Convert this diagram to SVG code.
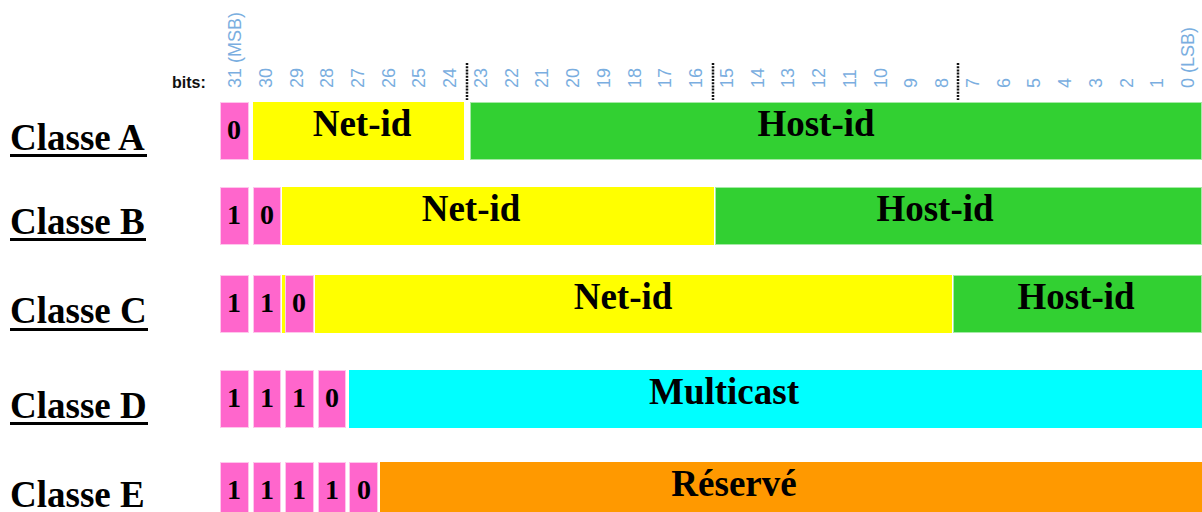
<svg xmlns="http://www.w3.org/2000/svg" width="1202" height="512" viewBox="0 0 1202 512">
<style>
.bit{font-family:"Liberation Sans",Arial,sans-serif;font-size:18px;fill:#7aaee0}
.bits{font-family:"Liberation Sans",Arial,sans-serif;font-size:16px;font-weight:bold;fill:#111}
.cls{font-family:"Liberation Serif","Times New Roman",serif;font-size:37px;font-weight:bold;fill:#000}
.lbl{font-family:"Liberation Serif","Times New Roman",serif;font-size:37px;font-weight:bold;fill:#000;text-anchor:middle}
.dig{font-family:"Liberation Serif","Times New Roman",serif;font-size:28px;font-weight:bold;fill:#000;text-anchor:middle}
.pk{fill:#ff66cc;stroke:#ffc6ec;stroke-width:1}
.ye{fill:#ffff00}
.gr{fill:#32d032;stroke:#a6eaa6;stroke-width:1}
.cy{fill:#00ffff}
.or{fill:#ff9900}
.ul{fill:#000}
.dot{stroke:#111;stroke-width:2.5;stroke-dasharray:2 1.2}
</style>
<g id="ruler">
<text class="bits" x="172" y="88">bits:</text>
<text class="bit" transform="translate(241,88) rotate(-90)">31 (MSB)</text>
<text class="bit" transform="translate(271.7,88) rotate(-90)">30</text>
<text class="bit" transform="translate(302.5,88) rotate(-90)">29</text>
<text class="bit" transform="translate(333.2,88) rotate(-90)">28</text>
<text class="bit" transform="translate(364,88) rotate(-90)">27</text>
<text class="bit" transform="translate(394.7,88) rotate(-90)">26</text>
<text class="bit" transform="translate(425.4,88) rotate(-90)">25</text>
<text class="bit" transform="translate(456.2,88) rotate(-90)">24</text>
<text class="bit" transform="translate(486.9,88) rotate(-90)">23</text>
<text class="bit" transform="translate(517.7,88) rotate(-90)">22</text>
<text class="bit" transform="translate(548.4,88) rotate(-90)">21</text>
<text class="bit" transform="translate(579.1,88) rotate(-90)">20</text>
<text class="bit" transform="translate(609.9,88) rotate(-90)">19</text>
<text class="bit" transform="translate(640.6,88) rotate(-90)">18</text>
<text class="bit" transform="translate(671.4,88) rotate(-90)">17</text>
<text class="bit" transform="translate(702.2,88) rotate(-90)">16</text>
<text class="bit" transform="translate(732.8,88) rotate(-90)">15</text>
<text class="bit" transform="translate(763.6,88) rotate(-90)">14</text>
<text class="bit" transform="translate(794.3,88) rotate(-90)">13</text>
<text class="bit" transform="translate(825.1,88) rotate(-90)">12</text>
<text class="bit" transform="translate(855.8,88) rotate(-90)">11</text>
<text class="bit" transform="translate(886.6,88) rotate(-90)">10</text>
<text class="bit" transform="translate(917.3,88) rotate(-90)">9</text>
<text class="bit" transform="translate(948,88) rotate(-90)">8</text>
<text class="bit" transform="translate(978.8,88) rotate(-90)">7</text>
<text class="bit" transform="translate(1009.5,88) rotate(-90)">6</text>
<text class="bit" transform="translate(1040.3,88) rotate(-90)">5</text>
<text class="bit" transform="translate(1071,88) rotate(-90)">4</text>
<text class="bit" transform="translate(1101.7,88) rotate(-90)">3</text>
<text class="bit" transform="translate(1132.5,88) rotate(-90)">2</text>
<text class="bit" transform="translate(1163.2,88) rotate(-90)">1</text>
<text class="bit" transform="translate(1194,88) rotate(-90)">0 (LSB)</text>
</g>
<g id="connectors">
<line class="dot" x1="467" y1="63" x2="467" y2="100"/>
<line class="dot" x1="713" y1="63" x2="713" y2="100"/>
<line class="dot" x1="958" y1="63" x2="958" y2="100"/>
</g>
<g id="classA">
<text class="cls" x="10" y="150">Classe A</text>
<rect class="ul" x="10" y="154" width="137" height="3"/>
<rect class="pk" x="220.5" y="102.5" width="28" height="57"/>
<text class="dig" x="234" y="139">0</text>
<rect class="ye" x="253" y="102" width="211" height="58"/>
<text class="lbl" x="362" y="136">Net-id</text>
<rect class="gr" x="470.5" y="102.5" width="731" height="57"/>
<text class="lbl" x="816" y="136">Host-id</text>
</g>
<g id="classB">
<text class="cls" x="10" y="234">Classe B</text>
<rect class="ul" x="10" y="238" width="136" height="3"/>
<rect class="pk" x="220.5" y="187.5" width="28" height="57"/>
<text class="dig" x="234" y="224">1</text>
<rect class="pk" x="253.5" y="187.5" width="27" height="57"/>
<text class="dig" x="267" y="224">0</text>
<rect class="ye" x="282" y="187" width="432" height="58"/>
<text class="lbl" x="471" y="221">Net-id</text>
<rect class="gr" x="715.5" y="187.5" width="486" height="57"/>
<text class="lbl" x="935" y="221">Host-id</text>
</g>
<g id="classC">
<text class="cls" x="10" y="323">Classe C</text>
<rect class="ul" x="10" y="328" width="138" height="3"/>
<rect class="pk" x="220.5" y="275.5" width="28" height="57"/>
<text class="dig" x="234" y="312">1</text>
<rect class="pk" x="253.5" y="275.5" width="27" height="57"/>
<text class="dig" x="267" y="312">1</text>
<rect class="ye" x="282" y="275" width="3" height="58"/>
<rect class="pk" x="285.5" y="275.5" width="28" height="57"/>
<text class="dig" x="299" y="312">0</text>
<rect class="ye" x="315" y="275" width="637" height="58"/>
<text class="lbl" x="623" y="309">Net-id</text>
<rect class="gr" x="953.5" y="275.5" width="248" height="57"/>
<text class="lbl" x="1076" y="309">Host-id</text>
</g>
<g id="classD">
<text class="cls" x="10" y="418">Classe D</text>
<rect class="ul" x="10" y="422" width="138" height="3"/>
<rect class="pk" x="220.5" y="370.5" width="28" height="57"/>
<text class="dig" x="234" y="407">1</text>
<rect class="pk" x="253.5" y="370.5" width="27" height="57"/>
<text class="dig" x="267" y="407">1</text>
<rect class="pk" x="285.5" y="370.5" width="28" height="57"/>
<text class="dig" x="299" y="407">1</text>
<rect class="pk" x="318.5" y="370.5" width="27" height="57"/>
<text class="dig" x="332" y="407">0</text>
<rect class="cy" x="349" y="370" width="853" height="58"/>
<text class="lbl" x="724" y="404">Multicast</text>
</g>
<g id="classE">
<text class="cls" x="10" y="507">Classe E</text>
<rect class="pk" x="220.5" y="462.5" width="28" height="57"/>
<text class="dig" x="234" y="499">1</text>
<rect class="pk" x="253.5" y="462.5" width="27" height="57"/>
<text class="dig" x="267" y="499">1</text>
<rect class="pk" x="285.5" y="462.5" width="28" height="57"/>
<text class="dig" x="299" y="499">1</text>
<rect class="pk" x="318.5" y="462.5" width="27" height="57"/>
<text class="dig" x="332" y="499">1</text>
<rect class="pk" x="349.5" y="462.5" width="28" height="57"/>
<text class="dig" x="364" y="499">0</text>
<rect class="or" x="380" y="462" width="822" height="58"/>
<text class="lbl" x="734" y="496">Réservé</text>
</g>
</svg>
